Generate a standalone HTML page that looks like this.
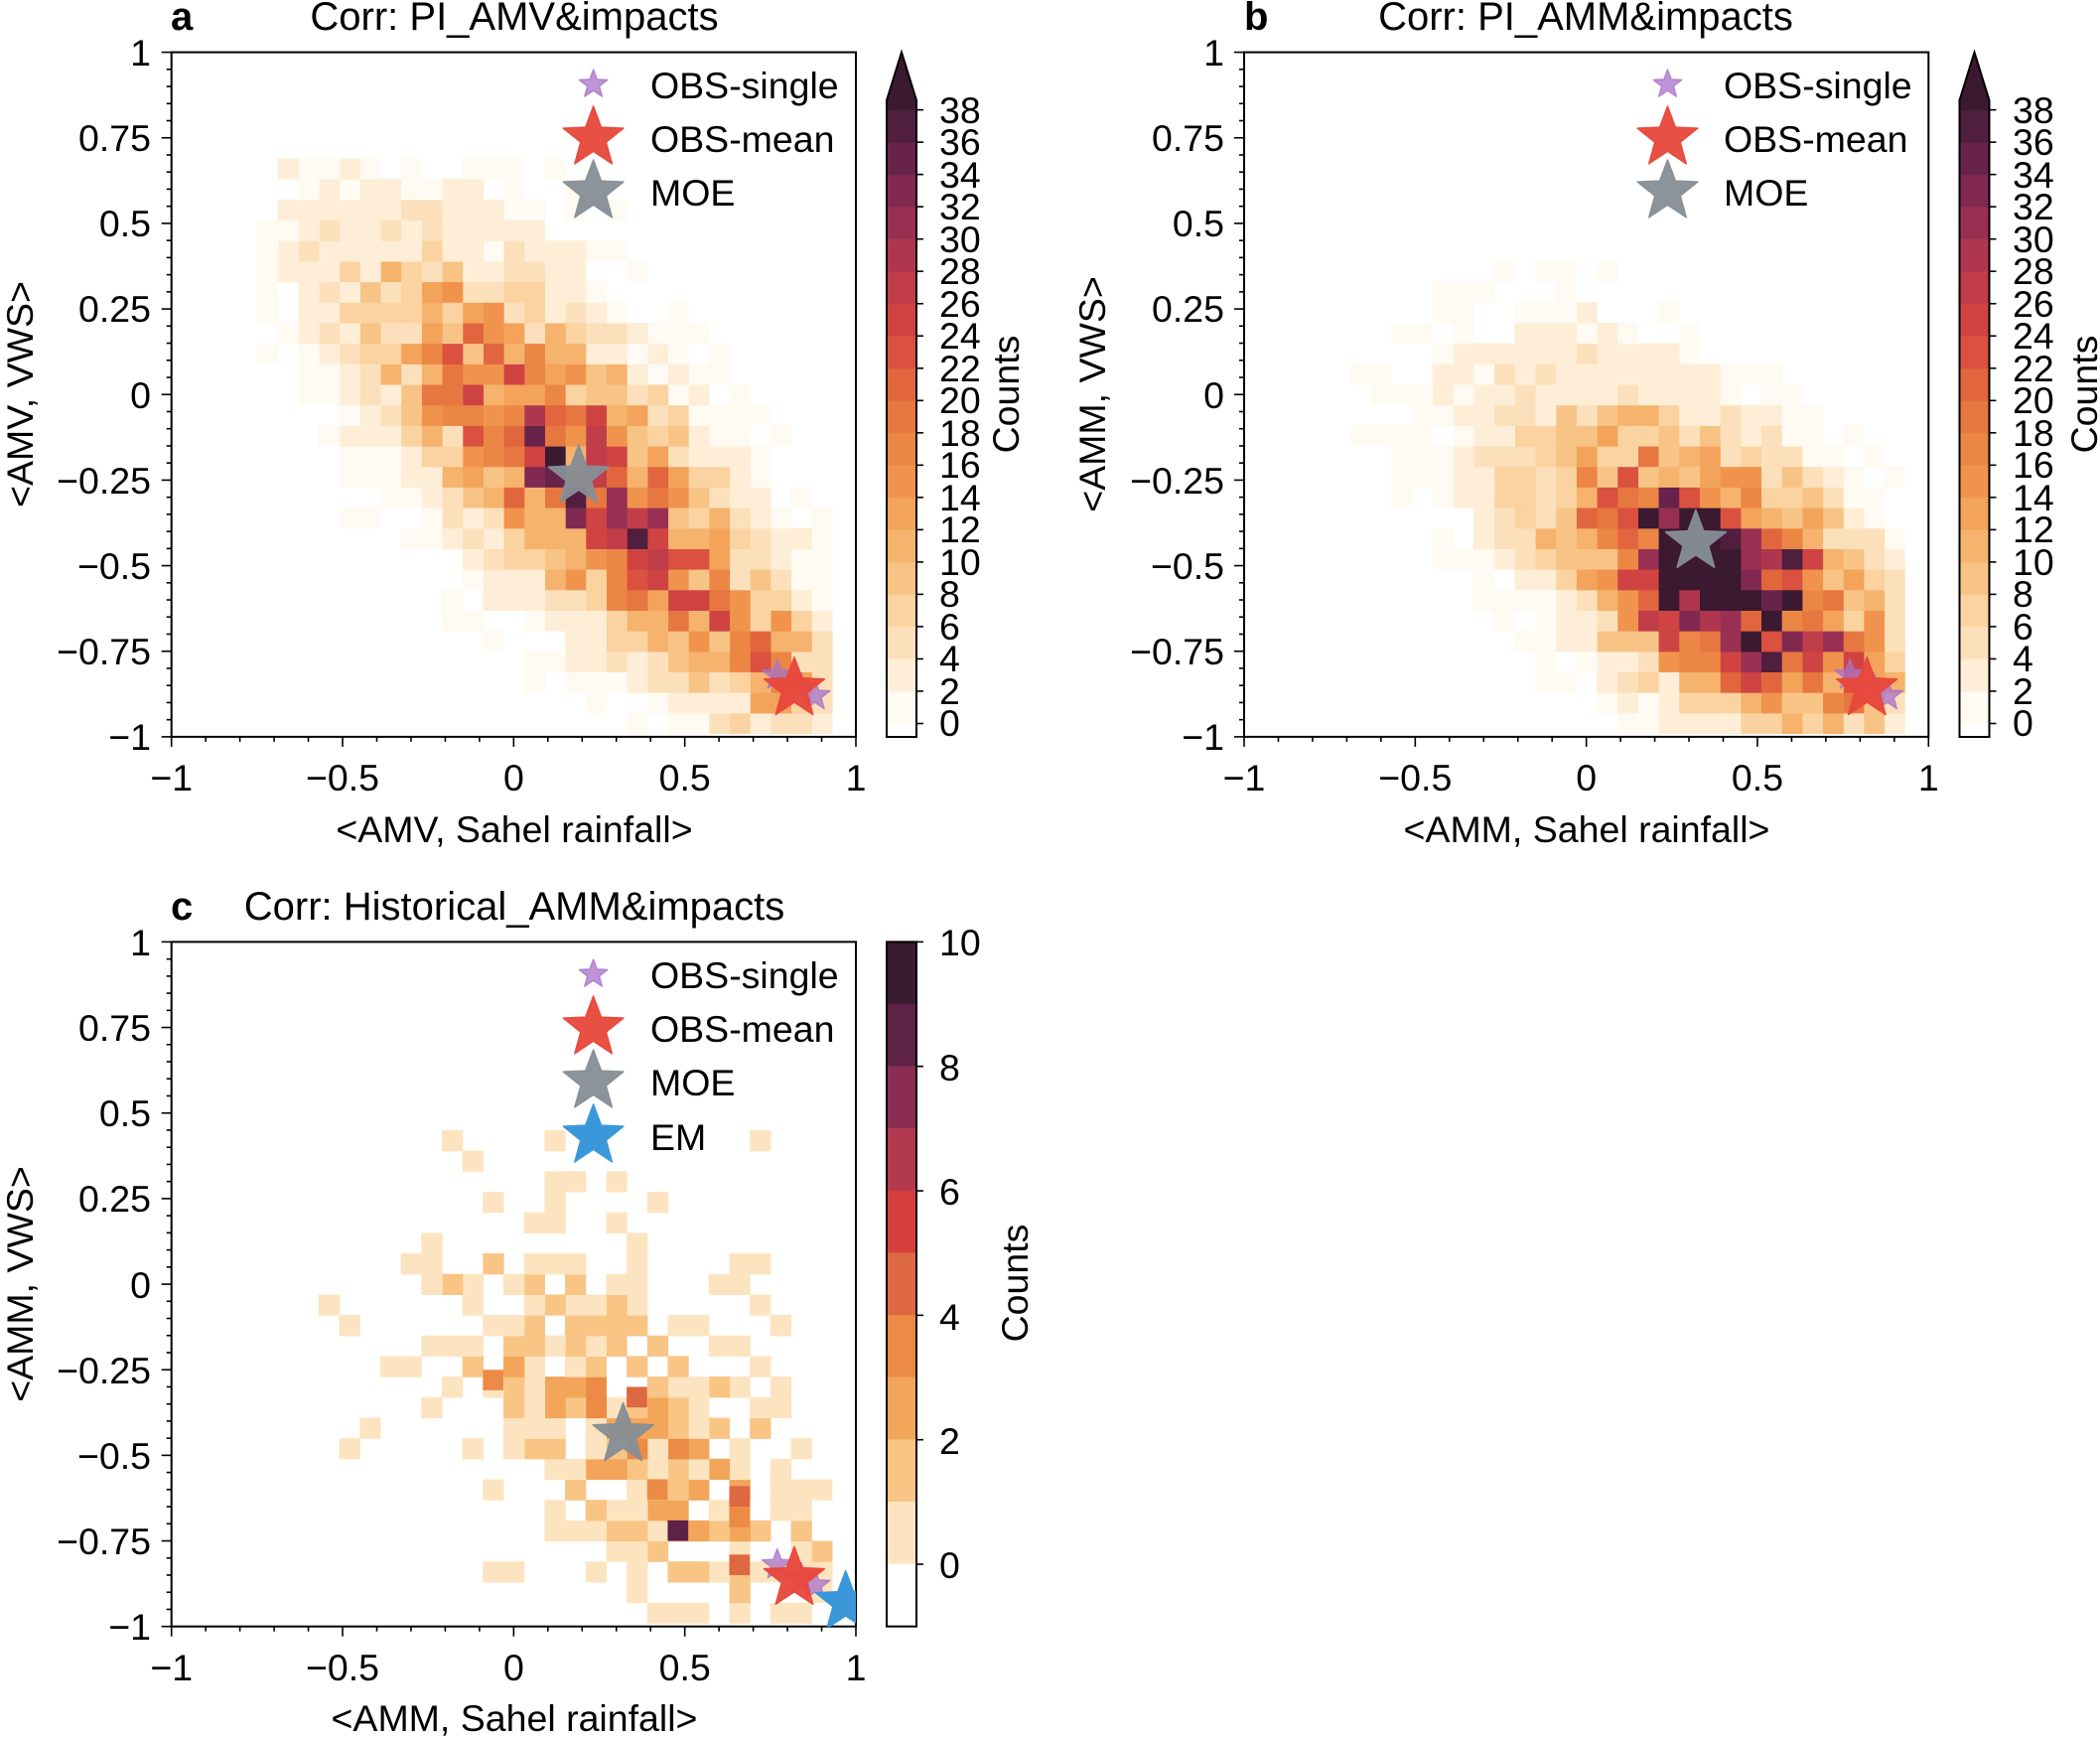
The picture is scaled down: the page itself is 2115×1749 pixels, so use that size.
<!DOCTYPE html>
<html><head><meta charset="utf-8"><style>
html,body{margin:0;padding:0;background:#fff}
svg{display:block}
text{font-family:"Liberation Sans",Arial,sans-serif;fill:#000}
.t{font-size:37.5px}
.ti{font-size:40px}
</style></head><body>
<svg id="s" width="2115" height="1749" viewBox="0 0 2115 1749" xmlns="http://www.w3.org/2000/svg">
<defs>
<clipPath id="ca"><rect x="172.7" y="52.6" width="689.3" height="689.4"/></clipPath>
<clipPath id="cb"><rect x="1253" y="52.6" width="689.3" height="689.4"/></clipPath>
<clipPath id="cc"><rect x="172.7" y="948.4" width="689.3" height="689.3"/></clipPath>
</defs>
<g id="cells"></g>
<g id="gfx"></g>
<g class="ti">
<text x="172" y="30" font-weight="bold">a</text>
<text x="518" y="30" text-anchor="middle">Corr: PI_AMV&amp;impacts</text>
<text x="1253" y="30" font-weight="bold">b</text>
<text x="1597" y="30" text-anchor="middle">Corr: PI_AMM&amp;impacts</text>
<text x="172" y="926" font-weight="bold">c</text>
<text x="518" y="926" text-anchor="middle">Corr: Historical_AMM&amp;impacts</text>
</g>
<g class="t">
<g text-anchor="end">
<text x="152" y="66">1</text><text x="152" y="152">0.75</text><text x="152" y="238">0.5</text><text x="152" y="324">0.25</text><text x="152" y="411">0</text><text x="152" y="497">−0.25</text><text x="152" y="583">−0.5</text><text x="152" y="669">−0.75</text><text x="152" y="755">−1</text>
<text x="1233" y="66">1</text><text x="1233" y="152">0.75</text><text x="1233" y="238">0.5</text><text x="1233" y="324">0.25</text><text x="1233" y="411">0</text><text x="1233" y="497">−0.25</text><text x="1233" y="583">−0.5</text><text x="1233" y="669">−0.75</text><text x="1233" y="755">−1</text>
<text x="152" y="962">1</text><text x="152" y="1048">0.75</text><text x="152" y="1134">0.5</text><text x="152" y="1220">0.25</text><text x="152" y="1307">0</text><text x="152" y="1393">−0.25</text><text x="152" y="1479">−0.5</text><text x="152" y="1565">−0.75</text><text x="152" y="1651">−1</text>
</g>
<g text-anchor="middle">
<text x="172.7" y="796">−1</text><text x="345" y="796">−0.5</text><text x="517.4" y="796">0</text><text x="689.7" y="796">0.5</text><text x="862" y="796">1</text>
<text x="1253" y="796">−1</text><text x="1425.3" y="796">−0.5</text><text x="1597.7" y="796">0</text><text x="1770" y="796">0.5</text><text x="1942.3" y="796">1</text>
<text x="172.7" y="1692">−1</text><text x="345" y="1692">−0.5</text><text x="517.4" y="1692">0</text><text x="689.7" y="1692">0.5</text><text x="862" y="1692">1</text>
<text x="518" y="848">&lt;AMV, Sahel rainfall&gt;</text>
<text x="1598" y="848">&lt;AMM, Sahel rainfall&gt;</text>
<text x="518" y="1743">&lt;AMM, Sahel rainfall&gt;</text>
<text transform="translate(33,397) rotate(-90)">&lt;AMV, VWS&gt;</text>
<text transform="translate(1113,397) rotate(-90)">&lt;AMM, VWS&gt;</text>
<text transform="translate(33,1293) rotate(-90)">&lt;AMM, VWS&gt;</text>
<text transform="translate(1026,397) rotate(-90)">Counts</text>
<text transform="translate(2112,397) rotate(-90)">Counts</text>
<text transform="translate(1035,1292) rotate(-90)">Counts</text>
</g>
<g>
<text x="946" y="741">0</text><text x="946" y="709">2</text><text x="946" y="676">4</text><text x="946" y="644">6</text><text x="946" y="611">8</text><text x="946" y="579">10</text><text x="946" y="546">12</text><text x="946" y="514">14</text><text x="946" y="481">16</text><text x="946" y="449">18</text><text x="946" y="416">20</text><text x="946" y="384">22</text><text x="946" y="351">24</text><text x="946" y="319">26</text><text x="946" y="286">28</text><text x="946" y="254">30</text><text x="946" y="221">32</text><text x="946" y="189">34</text><text x="946" y="156">36</text><text x="946" y="124">38</text>
</g>
<g>
<text x="2027" y="741">0</text><text x="2027" y="709">2</text><text x="2027" y="676">4</text><text x="2027" y="644">6</text><text x="2027" y="611">8</text><text x="2027" y="579">10</text><text x="2027" y="546">12</text><text x="2027" y="514">14</text><text x="2027" y="481">16</text><text x="2027" y="449">18</text><text x="2027" y="416">20</text><text x="2027" y="384">22</text><text x="2027" y="351">24</text><text x="2027" y="319">26</text><text x="2027" y="286">28</text><text x="2027" y="254">30</text><text x="2027" y="221">32</text><text x="2027" y="189">34</text><text x="2027" y="156">36</text><text x="2027" y="124">38</text>
</g>
<g>
<text x="946" y="1589">0</text><text x="946" y="1464">2</text><text x="946" y="1339">4</text><text x="946" y="1213">6</text><text x="946" y="1088">8</text><text x="946" y="962">10</text>
</g>
<g>
<text x="655" y="99">OBS-single</text><text x="655" y="153">OBS-mean</text><text x="655" y="207">MOE</text>
<text x="1736" y="99">OBS-single</text><text x="1736" y="153">OBS-mean</text><text x="1736" y="207">MOE</text>
<text x="655" y="995">OBS-single</text><text x="655" y="1049">OBS-mean</text><text x="655" y="1103">MOE</text><text x="655" y="1158">EM</text>
</g>
</g>
</svg>
<script>
(function(){
var NS="http://www.w3.org/2000/svg";
var cells=document.getElementById('cells'),gfx=document.getElementById('gfx');
function el(tag,attrs,parent){var e=document.createElementNS(NS,tag);for(var k in attrs)e.setAttribute(k,attrs[k]);(parent||gfx).appendChild(e);return e;}
function rng(a){return function(){a|=0;a=a+0x6D2B79F5|0;var t=Math.imul(a^a>>>15,1|a);t=t+Math.imul(t^t>>>7,61|t)^t;return((t^t>>>14)>>>0)/4294967296;}}
function hex(h){return[parseInt(h.substr(1,2),16),parseInt(h.substr(3,2),16),parseInt(h.substr(5,2),16)];}
var stops=[[0,'#ffffff'],[2,'#fef4e4'],[4,'#fde7c9'],[8,'#f9cc92'],[12,'#f4aa60'],[16,'#ee8d46'],[20,'#e4703e'],[24,'#d7463f'],[28,'#b93a4d'],[32,'#8e2c55'],[36,'#5a2046'],[39,'#3b1930']];
function cmap(v){if(v<=0)return'#ffffff';for(var i=1;i<stops.length;i++){if(v<=stops[i][0]){var a=stops[i-1],b=stops[i];var t=(v-a[0])/(b[0]-a[0]);var ca=hex(a[1]),cb=hex(b[1]);return'rgb('+ca.map(function(c,j){return Math.round(c+(cb[j]-c)*t)}).join(',')+')';}}return stops[stops.length-1][1];}
var cC=['#ffffff','#fde4c0','#f8c585','#f3a55a','#ec8b45','#dd6842','#d53e3d','#b3394f','#8b2c53','#5e2246','#3a1a2e'];
var P={a:{X0:172.7,Y0:52.6},b:{X0:1253,Y0:52.6},c:{X0:172.7,Y0:948.4}};
var S=689.3/2;
function px(p,x){return p.X0+(x+1)*S}
function py(p,y){return p.Y0+(1-y)*S}
function g2(x,y,cx,cy,dx,dy,su,sv){var n=Math.hypot(dx,dy);dx/=n;dy/=n;var X=x-cx,Y=y-cy;var u=X*dx+Y*dy,v=-X*dy+Y*dx;return Math.exp(-(u*u)/(2*su*su)-(v*v)/(2*sv*sv));}
function heat(p,clip,fn,color,seed){
  var r=rng(seed);var g=el('g',{'clip-path':'url(#'+clip+')'},cells);
  for(var i=0;i<40;i++){var x1=0.93-0.06*i,x0=x1-0.06;if(x1<-1)break;
    for(var j=0;j<40;j++){var y0=-0.93+0.06*j-0.06,y1=y0+0.06;if(y0>1)break;
      var xc=(x0+x1)/2,yc=(y0+y1)/2;var c=fn(xc,yc,r);if(!c)continue;
      el('rect',{x:px(p,x0).toFixed(1),y:py(p,y1).toFixed(1),width:(0.06*S+0.6).toFixed(1),height:(0.06*S+0.6).toFixed(1),fill:color(c)},g);}}
}
function fa(x,y,r){
  var E=22*g2(x,y,0.22,-0.28,0.69,-0.72,0.45,0.15)+6*g2(x,y,0.05,-0.05,0.69,-0.72,0.55,0.27)+10*g2(x,y,0.72,-0.76,1,-1,0.12,0.08);
  if(y>0.66||x<-0.72)E=0;
  var v=E*(0.45+1.1*r());if(E<0.3||v<0.7||(E<2&&r()<0.35))return 0;return v;}
function fb(x,y,r){
  var E=40*g2(x,y,0.42,-0.56,0.8,-0.6,0.28,0.17)+6*g2(x,y,0.15,-0.3,0.8,-0.6,0.42,0.26)+8*g2(x,y,0.8,-0.85,1,-0.5,0.12,0.06);
  if(y>0.55||x<-0.72)E=0;
  var v=E*(0.5+r());if(E<0.3||v<0.7||(E<2&&r()<0.35))return 0;return v;}
function fc(x,y,r){
  var E=2.4*g2(x,y,0.42,-0.5,0.7,-0.7,0.42,0.2)+0.5*g2(x,y,0.1,0.0,1,0,0.3,0.3);
  if(y>0.46||x<-0.62||y<-0.96)E=0;
  var a=r(),b=r();if(a>Math.min(0.8,E*0.55))return 0;return 1+Math.floor(E*b*1.5);}
var lvl=function(v){return cmap(Math.floor(v/2)*2+1)};
heat(P.a,'ca',fa,lvl,11);
heat(P.b,'cb',fb,lvl,23);
heat(P.c,'cc',fc,function(n){return cC[Math.min(n,10)]},37);
[[0.48,-0.72,9],[0.66,-0.62,5],[0.66,-0.82,5],[0.36,-0.33,5],[-0.06,-0.28,4],[0.42,-0.6,4],[0.66,-0.68,4]].forEach(function(d){var p=P.c;el('rect',{x:px(p,d[0]-0.03),y:py(p,d[1]+0.03),width:20.7,height:20.7,fill:cC[d[2]]},cells);});
function axes(p){
  el('rect',{x:p.X0,y:p.Y0,width:2*S,height:2*S,fill:'none',stroke:'#000','stroke-width':2});
  for(var k=0;k<=20;k++){var x=p.X0+k*S/10;var L=(k%5==0)?10:5;el('line',{x1:x,x2:x,y1:p.Y0+2*S,y2:p.Y0+2*S+L,stroke:'#000','stroke-width':1.6});}
  for(var k=0;k<=40;k++){var y=p.Y0+k*S/20;var L=(k%5==0)?10:5;el('line',{x1:p.X0,x2:p.X0-L,y1:y,y2:y,stroke:'#000','stroke-width':1.6});}
}
axes(P.a);axes(P.b);axes(P.c);
function cbar(x0){
  var w=30,bot=742,z=728.5,u=16.26;
  el('rect',{x:x0,y:z,width:w,height:bot-z,fill:'#ffffff'});
  for(var k=0;k<38;k+=2){el('rect',{x:x0,y:z-(k+2)*u-0.3,width:w,height:2*u+0.6,fill:cmap(k+1)});}
  var top=z-38*u;el('rect',{x:x0,y:101,width:w,height:top-101+0.5,fill:cmap(39)});
  el('path',{d:'M'+x0+',101 L'+(x0+w/2)+',52.6 L'+(x0+w)+',101 Z',fill:'#3b1930'});
  el('path',{d:'M'+x0+','+bot+' L'+x0+',101 L'+(x0+w/2)+',52.6 L'+(x0+w)+',101 L'+(x0+w)+','+bot+' Z',fill:'none',stroke:'#000','stroke-width':2});
  for(var k=0;k<=38;k+=2){var y=z-k*u;el('line',{x1:x0+w,x2:x0+w+7,y1:y,y2:y,stroke:'#000','stroke-width':1.6});}
}
cbar(893);cbar(1973.5);
(function(){var x0=893,w=30,top=948.4,u=62.66;
  for(var k=0;k<11;k++){el('rect',{x:x0,y:top+k*u-0.3,width:w,height:u+0.6,fill:cC[10-k]});}
  el('rect',{x:x0,y:top,width:w,height:11*u,fill:'none',stroke:'#000','stroke-width':2});
  for(var v=0;v<=10;v+=2){var y=top+(10-v)*u;el('line',{x1:x0+w,x2:x0+w+7,y1:y,y2:y,stroke:'#000','stroke-width':1.6});}
})();
function star(cx,cy,R,fill,op,parent){var pts=[];for(var i=0;i<10;i++){var a=-Math.PI/2+i*Math.PI/5;var rr=(i%2==0)?R:R*0.42;pts.push((cx+rr*Math.cos(a)).toFixed(1)+','+(cy+rr*Math.sin(a)).toFixed(1));}
  el('polygon',{points:pts.join(' '),fill:fill,'fill-opacity':op,stroke:fill,'stroke-opacity':op,'stroke-width':1.5,'stroke-linejoin':'round'},parent);}
var PUR='#a872c8',RED='#e8473a',GRY='#868e96',BLU='#3a98da';
function markers(p,clip,moe,em){
  var g=el('g',{'clip-path':'url(#'+clip+')'});
  star(px(p,0.77),py(p,-0.82),16,PUR,0.75,g);star(px(p,0.88),py(p,-0.88),16,PUR,0.75,g);star(px(p,0.84),py(p,-0.86),16,PUR,0.75,g);
  star(px(p,0.82),py(p,-0.86),32,RED,0.95,g);
  star(px(p,moe[0]),py(p,moe[1]),32,GRY,0.95,g);
  if(em)star(px(p,0.97),py(p,-0.93),32,BLU,1,g);
}
markers(P.a,'ca',[0.19,-0.24]);markers(P.b,'cb',[0.32,-0.43]);markers(P.c,'cc',[0.32,-0.44],true);
function legend(x,ys,em){star(x,ys[0],15,PUR,0.75);star(x,ys[1],32,RED,0.95);star(x,ys[2],32,GRY,0.95);if(em)star(x,ys[3],32,BLU,1);}
legend(597.6,[85,139,193]);legend(1679.5,[85,139,193]);legend(597.6,[981,1035,1089,1144],true);
})();
</script>
</body></html>
